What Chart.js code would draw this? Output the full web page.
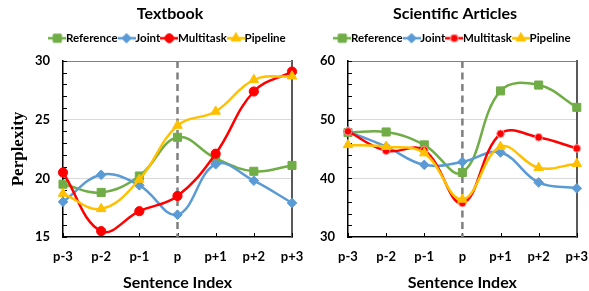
<!DOCTYPE html>
<html><head><meta charset="utf-8">
<script src="https://cdn.jsdelivr.net/npm/chart.js@4/dist/chart.umd.min.js"></script>
<style>
html,body{margin:0;padding:0;background:#fff;width:589px;height:291px;overflow:hidden;position:relative}
.panel{position:absolute;top:0;height:291px}
#p1{left:0;width:340px}
#p2{left:310px;width:290px}
canvas{display:block}
</style></head><body>
<div class="panel" id="p1"><canvas id="c1" width="340" height="291"></canvas></div>
<div class="panel" id="p2"><canvas id="c2" width="290" height="291"></canvas></div>
<script>
// ---- data ----
const categories = ['p-3', 'p-2', 'p-1', 'p', 'p+1', 'p+2', 'p+3'];
const seriesNames = ['Reference', 'Joint', 'Multitask', 'Pipeline'];

const tbTitle = 'Textbook';
const tbReference = [19.5, 18.8, 20.2, 23.5, 21.7, 20.6, 21.1];
const tbJoint     = [18.0, 20.3, 19.4, 16.9, 21.2, 19.8, 17.9];
const tbMultitask = [20.5, 15.5, 17.2, 18.5, 22.1, 27.4, 29.1];
const tbPipeline  = [18.7, 17.4, 19.9, 24.5, 25.7, 28.4, 28.7];
const tbTicks = [15, 20, 25, 30];

const saTitle = 'Scientific Articles';
const saReference = [47.8, 47.9, 45.7, 41.0, 54.9, 55.9, 52.1];
const saJoint     = [48.0, 45.4, 42.3, 42.8, 44.4, 39.3, 38.3];
const saMultitask = [48.0, 44.7, 44.8, 35.8, 47.6, 47.0, 45.1];
const saPipeline  = [45.7, 45.4, 44.3, 36.4, 45.4, 41.8, 42.5];
const saTicks = [30, 40, 50, 60];

const yTitle = 'Perplexity';
const xTitle = 'Sentence Index';
const dividerCategory = 'p';

// ---- styles ----
const FONT = 'Lato, "Open Sans", "Liberation Sans", sans-serif';
const COLORS = ['#70AD47', '#5B9BD5', '#FF0000', '#FFC000'];
const STYLES = ['rect', 'rectRot', 'circle', 'triangle'];
const LEGEND_FONT = 11.5;

function makeSymbol(color, style, radius, border) {
  const w = 6 + LEGEND_FONT;
  const c = document.createElement('canvas');
  c.width = Math.round(w); c.height = 12;
  const ctx = c.getContext('2d');
  ctx.strokeStyle = color; ctx.lineWidth = 2.5;
  ctx.beginPath(); ctx.moveTo(0, 6); ctx.lineTo(c.width, 6); ctx.stroke();
  ctx.fillStyle = color; ctx.strokeStyle = border || color; ctx.lineWidth = 1;
  Chart.helpers.drawPoint(ctx, {pointStyle: style, radius: radius, rotation: 0, borderWidth: 1}, c.width / 2, 6);
  ctx.fill(); ctx.stroke();
  return c;
}

const framePlugin = {
  id: 'frame',
  beforeDatasetsDraw(chart) {
    const {ctx, chartArea: a, scales} = chart;
    ctx.save();
    // top border
    ctx.strokeStyle = '#808080'; ctx.lineWidth = 1.2;
    ctx.beginPath(); ctx.moveTo(a.left, a.top + 0.5); ctx.lineTo(a.right, a.top + 0.5); ctx.stroke();
    // inward ticks
    ctx.strokeStyle = '#000'; ctx.lineWidth = 1;
    const y = scales.y;
    y.ticks.forEach((t, i) => {
      const py = Math.round(y.getPixelForTick(i)) + 0.5;
      ctx.beginPath(); ctx.moveTo(a.left, py); ctx.lineTo(a.left + 4, py); ctx.stroke();
    });
    const x = scales.x;
    categories.forEach((c, i) => {
      const px = Math.round(x.getPixelForValue(i)) + 0.5;
      ctx.beginPath(); ctx.moveTo(px, a.bottom); ctx.lineTo(px, a.bottom - 4); ctx.stroke();
    });
    // dashed divider
    const dx = x.getPixelForValue(categories.indexOf(dividerCategory));
    ctx.strokeStyle = '#7F7F7F'; ctx.lineWidth = 2.5; ctx.setLineDash([7, 4.5]);
    ctx.beginPath(); ctx.moveTo(dx, a.top); ctx.lineTo(dx, a.bottom); ctx.stroke();
    ctx.restore();
  }
};

function makeChart(canvasId, title, series, ticks, minorStep, opts) {
  const sizes = opts.sizes;
  const datasets = series.map((data, i) => ({
    label: seriesNames[i],
    data: data,
    borderColor: COLORS[i],
    backgroundColor: COLORS[i],
    pointStyle: STYLES[i],
    pointRadius: sizes[i],
    pointHoverRadius: sizes[i],
    pointBackgroundColor: COLORS[i],
    pointBorderColor: (opts.pointBorders && opts.pointBorders[i]) || COLORS[i],
    pointBorderWidth: 1,
    borderWidth: 2.5,
    tension: 0.4,
    clip: false,
    yAxisID: 'y',
    order: 3 - i
  }));
  const symbols = series.map((d, i) => makeSymbol(COLORS[i], STYLES[i], opts.legendSizes[i], opts.pointBorders && opts.pointBorders[i]));
  const tmin = ticks[0], tmax = ticks[ticks.length - 1];
  const majorStep = ticks[1] - ticks[0];
  return new Chart(document.getElementById(canvasId), {
    type: 'line',
    data: {labels: categories, datasets: datasets},
    plugins: [framePlugin],
    options: {
      responsive: false,
      animation: false,
      events: [],
      layout: {padding: 0},
      plugins: {
        title: {display: true, text: title, color: '#000',
          font: {family: FONT, size: 16, weight: 'bold'}, padding: {top: 4.4, bottom: 2.9}},
        subtitle: {display: true, text: '', weight: 500, font: {size: 1}, padding: {top: 0, bottom: 5.8}},
        legend: {
          display: true, position: 'top',
          labels: {
            usePointStyle: true, pointStyleWidth: 6, padding: 6, color: '#000',
            font: {family: FONT, size: LEGEND_FONT, weight: 'bold'},
            sort: (a, b) => a.datasetIndex - b.datasetIndex,
            generateLabels: (chart) => {
              const items = Chart.defaults.plugins.legend.labels.generateLabels(chart);
              items.forEach(it => { it.pointStyle = symbols[it.datasetIndex]; });
              return items;
            }
          }
        },
        tooltip: {enabled: false}
      },
      scales: {
        x: {
          type: 'category',
          offset: false,
          grid: {display: false, drawTicks: false},
          border: {display: true, color: '#000', width: 1.5},
          ticks: {color: '#000', padding: 12, font: {family: FONT, size: 13, weight: 'bold'}, autoSkip: false, maxRotation: 0},
          title: {display: true, text: xTitle, color: '#000', font: {family: FONT, size: 16, weight: 'bold', lineHeight: 1}, padding: {top: 0, bottom: 0}},
          afterFit: (s) => { s.height = 54; }
        },
        y: {
          position: 'left',
          min: tmin, max: tmax,
          grid: {drawTicks: false, lineWidth: 1,
            color: (ctx) => (ctx.tick && ctx.tick.value % majorStep === 0 && ctx.tick.value !== tmin && ctx.tick.value !== tmax) ? '#D9D9D9' : 'rgba(0,0,0,0)'},
          border: {display: true, color: '#000', width: 1.5},
          ticks: {stepSize: minorStep, autoSkip: false, color: '#000', padding: 13,
            font: {family: FONT, size: 13, weight: 'bold'},
            callback: (v) => ticks.includes(v) ? String(v) : ''},
          title: {display: !!opts.yTitle, text: opts.yTitle || '', color: '#000',
            font: {family: '"Liberation Serif", "Times New Roman", serif', size: 17, weight: 'bold'}, padding: {top: 8, bottom: 0}},
          afterFit: (s) => { s.width = opts.yWidth; }
        },
        yFrame: {
          position: 'right',
          min: tmin, max: tmax,
          grid: {display: false, drawTicks: false, drawOnChartArea: false},
          border: {display: true, color: '#595959', width: 2},
          ticks: {display: false},
          afterFit: (s) => { s.width = opts.padRight; }
        }
      }
    }
  });
}

makeChart('c1', tbTitle, [tbReference, tbJoint, tbMultitask, tbPipeline], tbTicks, 1,
  {yTitle: yTitle, yWidth: 63, padRight: 48, sizes: [5.7, 4.8, 4.6, 5.5], legendSizes: [5.5, 4.5, 4.2, 5.3]});
makeChart('c2', saTitle, [saReference, saJoint, saMultitask, saPipeline], saTicks, 2,
  {yTitle: '', yWidth: 38, padRight: 23, sizes: [5.7, 4.8, 3.8, 5.5], legendSizes: [5.5, 4.5, 3.8, 5.3],
   pointBorders: [null, null, '#FF9A9A', null]});
</script>
</body></html>
